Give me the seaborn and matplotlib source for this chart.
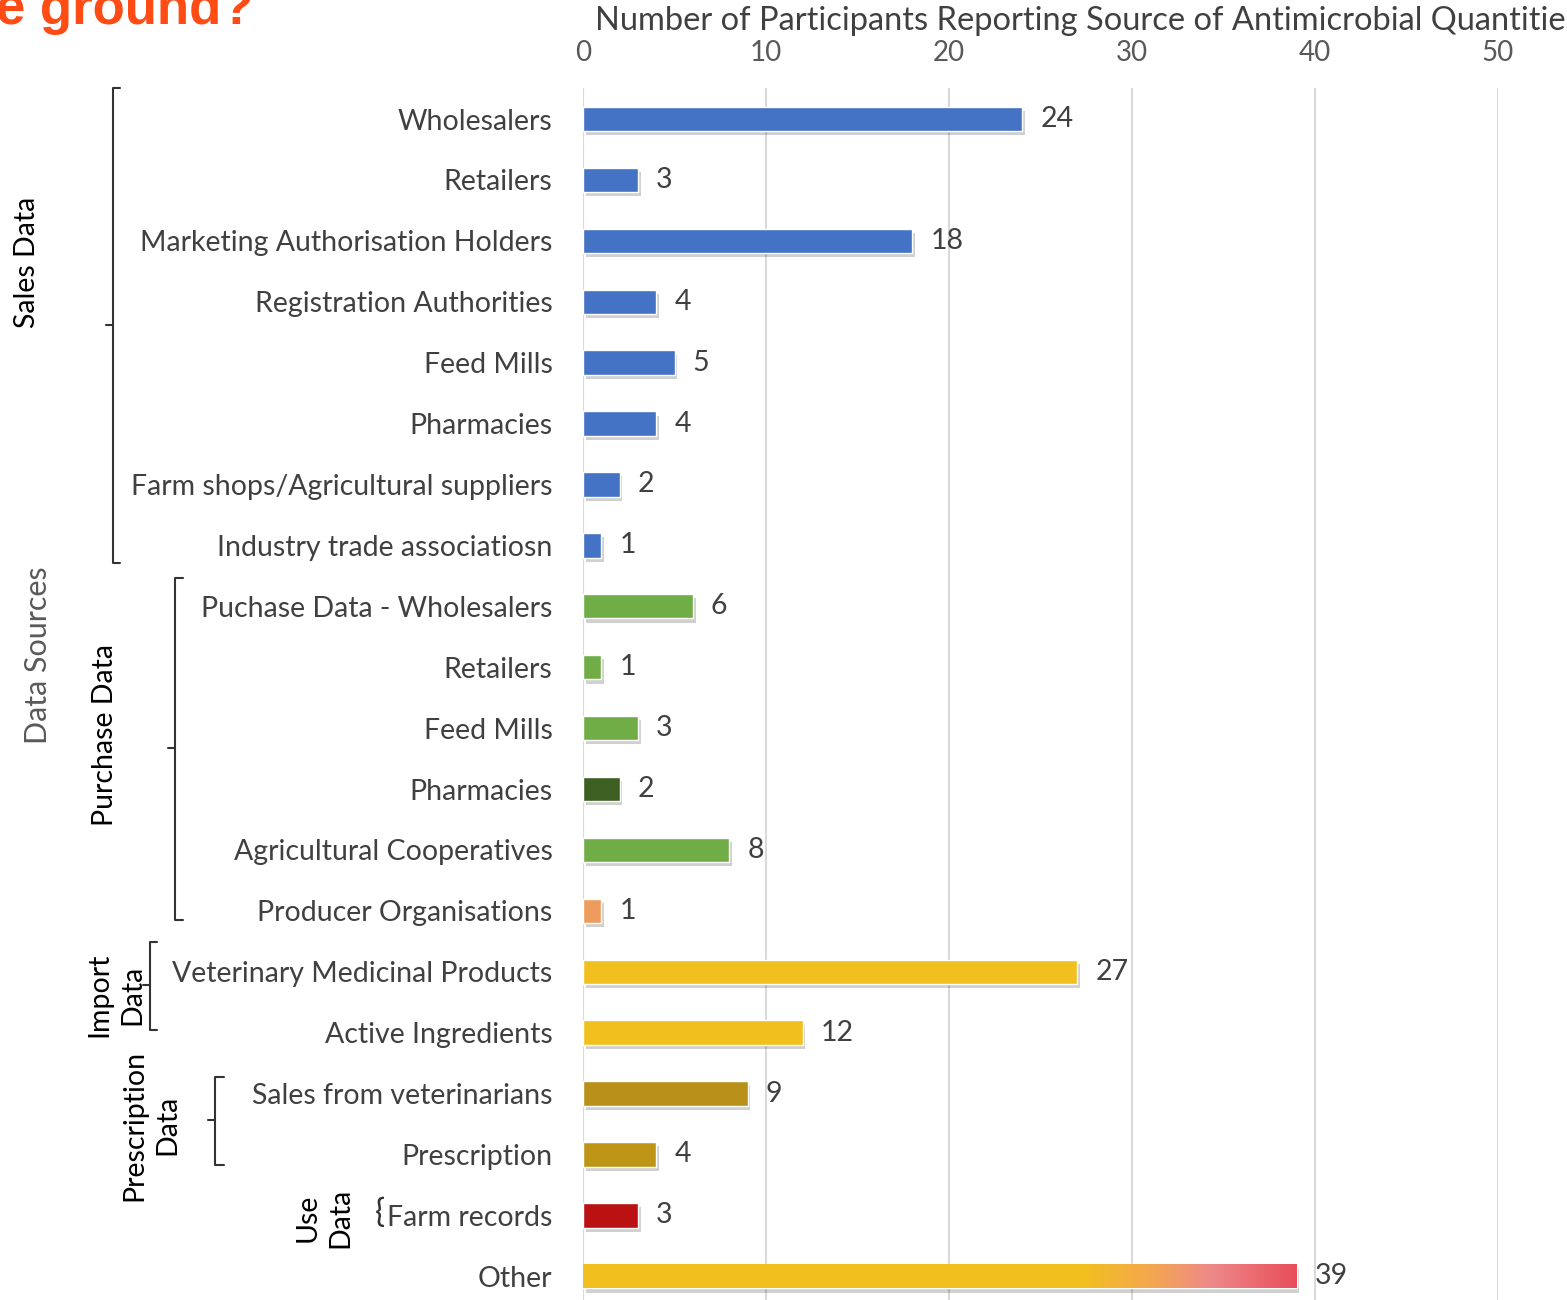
import numpy as np
import pandas as pd
import matplotlib
matplotlib.use('Agg')
import matplotlib.pyplot as plt
import matplotlib.patheffects as pe
from matplotlib.colors import LinearSegmentedColormap
from matplotlib.lines import Line2D
import seaborn as sns

# Données
categories = ['Wholesalers', 'Retailers', 'Marketing Authorisation Holders',
              'Registration Authorities', 'Feed Mills', 'Pharmacies',
              'Farm shops/Agricultural suppliers', 'Industry trade associatiosn',
              'Puchase Data - Wholesalers', 'Retailers', 'Feed Mills', 'Pharmacies',
              'Agricultural Cooperatives', 'Producer Organisations',
              'Veterinary Medicinal Products', 'Active Ingredients',
              'Sales from veterinarians', 'Prescription', 'Farm records', 'Other']
participants = [24, 3, 18, 4, 5, 4, 2, 1, 6, 1, 3, 2, 8, 1, 27, 12, 9, 4, 3, 39]
bar_colors = ['#4472C4'] * 8 + ['#70AD47', '#70AD47', '#70AD47', '#3E5F22',
                                '#70AD47', '#EE9C5E'] + ['#F2C01E', '#F2C01E',
                                '#B8901A', '#BF9516', '#BA1212', '#F2C01E']
xticks = [0, 10, 20, 30, 40, 50]
titre = 'Number of Participants Reporting Source of Antimicrobial Quantities'

W, H = 1567, 1300
df = pd.DataFrame({'row': [str(i) for i in range(len(categories))],
                   'n': participants})

sns.set_theme(style='white')
plt.rcParams['font.family'] = ['Lato', 'DejaVu Sans']

fig = plt.figure(figsize=(W / 100, H / 100), dpi=100)
ax = fig.add_axes([583 / W, 0, (1498 - 583) / W, 1 - 88 / H])

sns.barplot(data=df, x='n', y='row', hue='row', palette=bar_colors,
            saturation=1, legend=False, width=0.4, ax=ax, zorder=3)

# ombre sous les barres
for p in ax.patches:
    p.set_path_effects([pe.SimplePatchShadow(offset=(2, -3), alpha=0.25,
                                             shadow_rgbFace='#444444'),
                        pe.Normal()])

# dégradé pour "Other"
last = ax.patches[-1]
cmap = LinearSegmentedColormap.from_list(
    'other', [(0, '#F2C01E'), (0.7, '#F2C01E'), (0.8, '#F4A650'),
              (0.88, '#EE8A8A'), (1, '#E84E5A')])
grad = ax.imshow(np.linspace(0, 1, 256).reshape(1, -1), cmap=cmap, aspect='auto',
                 extent=[last.get_x(), last.get_x() + last.get_width(),
                         last.get_y() + last.get_height(), last.get_y()],
                 zorder=4)
grad.set_clip_path(last)

ax.set_xlim(0, 50)
ax.set_ylim(len(categories) - 0.61, -0.51)
ax.set_xticks(xticks)
ax.xaxis.tick_top()
ax.tick_params(axis='x', length=0, pad=16, labelsize=20, labelcolor='#595959')
ax.set_yticks(range(len(categories)))
ax.set_yticklabels(categories)
ax.tick_params(axis='y', length=0, pad=22, labelsize=20.5, labelcolor='#404040')
ax.set_xlabel('')
ax.set_ylabel('')
ax.grid(axis='x', color='#D9D9D9', lw=1.5, zorder=0)
for s in ax.spines.values():
    s.set_visible(False)

for cont in ax.containers:
    ax.bar_label(cont, padding=13, fontsize=20.5, color='#404040')

# titres
fig.text(595 / W, 1 - 21 / H, titre, fontsize=23.5, color='#404040',
         ha='left', va='center')
fig.text(-4 / W, 1 - 24 / H, 'e ground?', fontsize=38, color='#FF4B14',
         fontweight='bold', family='Liberation Sans', ha='left', va='baseline')


def px(x, y):
    return x / W, 1 - y / H


def bracket(x, y0, y1, ym, serif=7, tick=7):
    pts = [(x + serif, y0), (x, y0), (x, y1), (x + serif, y1)]
    xs, ys = zip(*[px(a, b) for a, b in pts])
    fig.add_artist(Line2D(xs, ys, color='#333333', lw=1.5))
    xs, ys = zip(*[px(a, b) for a, b in [(x - tick, ym), (x, ym)]])
    fig.add_artist(Line2D(xs, ys, color='#333333', lw=1.5))


bracket(113, 88, 563, 325)
bracket(175, 578, 920, 748, serif=8)
bracket(150, 942, 1030, 985)
bracket(215, 1077, 1165, 1120, serif=9)

groupes = [('Sales Data', 27, 262, 20.5, 'black'),
           ('Data Sources', 38, 655, 22, '#595959'),
           ('Purchase Data', 105, 735, 20.5, 'black'),
           ('Import\nData', 116, 995, 20.5, 'black'),
           ('Prescription\nData', 151, 1125, 20.5, 'black'),
           ('Use\nData', 324, 1218, 20.5, 'black')]
for txt, gx, gy, fs, col in groupes:
    fig.text(*px(gx, gy), txt, rotation=90, fontsize=fs, color=col,
             ha='center', va='center', multialignment='center',
             linespacing=1.3)
fig.text(*px(380, 1213), '{', fontsize=24, color='#333333',
         ha='center', va='center')

fig.savefig('out.png', dpi=100, facecolor='white')
